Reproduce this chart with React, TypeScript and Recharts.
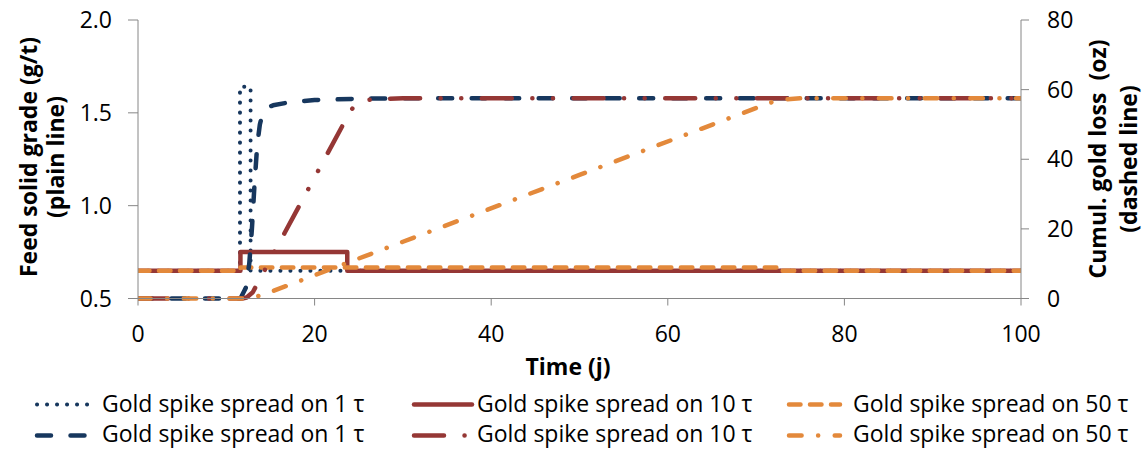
import { LineChart, Line, XAxis, YAxis, Legend } from "recharts"

const FONT = "'Open Sans', sans-serif"
const BLUE = "#17375E"
const RED = "#953735"
const ORANGE = "#E3893B"
const AXIS = "#868686"

// axis ticks
const timeTicks = [0, 20, 40, 60, 80, 100]
const gradeTicks = [0.5, 1.0, 1.5, 2.0]
const lossTicks = [0, 20, 40, 60, 80]

// feed solid grade (g/t), plain lines
const grade1Time = [0, 11.55, 11.55, 12.75, 12.75, 100]
const grade1 = [0.65, 0.65, 1.64, 1.64, 0.65, 0.65]
const grade10Time = [0, 11.6, 11.6, 23.7, 23.7, 100]
const grade10 = [0.65, 0.65, 0.75, 0.75, 0.65, 0.65]
const grade50Time = [0, 11.6, 11.6, 72.4, 72.4, 100]
const grade50 = [0.65, 0.65, 0.667, 0.667, 0.65, 0.65]

// cumulated gold loss (oz), dashed lines
const loss1Time = [0, 11.6, 12.2, 12.6, 12.9, 13.2, 13.5, 13.8, 14.1, 14.6, 15.3, 17, 20, 25, 30, 100]
const loss1 = [0, 0, 3, 10, 20, 33, 44, 50, 53, 54.8, 55.5, 56.3, 57, 57.4, 57.5, 57.5]
const loss10Time = [0, 11.8, 12.3, 13, 14, 16.6, 20.6, 24, 24.7, 25.5, 27, 30, 100]
const loss10 = [0, 0, 0.3, 1.8, 6.5, 18.8, 37.6, 53.6, 56, 56.9, 57.3, 57.5, 57.5]
const loss50Time = [0, 12, 12.8, 14, 30, 50, 70.4, 72, 73, 75, 100]
const loss50 = [0, 0, 0.3, 0.9, 16.3, 35.5, 55.1, 56.6, 57.1, 57.5, 57.5]

const seriesNames = [
  "Gold spike spread on 1 τ",
  "Gold spike spread on 10 τ",
  "Gold spike spread on 50 τ",
]

const toPoints = (t: number[], v: number[]) => t.map((x, i) => ({ t: x, v: v[i] }))

// line styles (Excel-like dash patterns)
const styles = {
  dot: { stroke: BLUE, dash: "0.1 9.9", width: 4 },
  solid: { stroke: RED, dash: undefined, width: 4.5 },
  dash: { stroke: ORANGE, dash: "11.5 9.5", width: 4.5 },
  longDash: { stroke: BLUE, dash: "14 19.5", width: 4.5 },
  longDashDotDot: { stroke: RED, dash: "30 20.5 0.1 20.5 0.1 20.5", width: 4.5 },
  dashDot: { stroke: ORANGE, dash: "12.6 16.5 0.1 16.5", width: 4.5 },
}

const series = [
  { key: "g1", axis: "grade", data: toPoints(grade1Time, grade1), name: seriesNames[0], style: styles.dot },
  { key: "g10", axis: "grade", data: toPoints(grade10Time, grade10), name: seriesNames[1], style: styles.solid },
  { key: "g50", axis: "grade", data: toPoints(grade50Time, grade50), name: seriesNames[2], style: styles.dash },
  { key: "l1", axis: "loss", data: toPoints(loss1Time, loss1), name: seriesNames[0], style: styles.longDash },
  { key: "l10", axis: "loss", data: toPoints(loss10Time, loss10), name: seriesNames[1], style: styles.longDashDotDot },
  { key: "l50", axis: "loss", data: toPoints(loss50Time, loss50), name: seriesNames[2], style: styles.dashDot },
]

// legend layout: 3 columns x 2 rows
const legendCols = [
  { x1: 37, x2: 88, tx: 102 },
  { x1: 414, x2: 472, tx: 477 },
  { x1: 789, x2: 840, tx: 853 },
]
const legendRows = [
  { ly: 19.5, ty: 27 },
  { ly: 50.5, ty: 57 },
]

const tickStyle = { fill: "#000", fontSize: 23, fontFamily: FONT }
const titleStyle = { fill: "#000", fontSize: 23, fontFamily: FONT, fontWeight: 700 }

function renderLegend() {
  return (
    <svg width={1146} height={67} style={{ display: "block" }}>
      {series.map((s, i) => {
        const col = legendCols[i % 3]
        const row = legendRows[Math.floor(i / 3)]
        return (
          <g key={s.key}>
            <line
              x1={col.x1}
              x2={col.x2}
              y1={row.ly}
              y2={row.ly}
              stroke={s.style.stroke}
              strokeWidth={s.style.width}
              strokeDasharray={s.style.dash}
              strokeLinecap="round"
            />
            <text x={col.tx} y={row.ty} {...tickStyle}>
              {s.name}
            </text>
          </g>
        )
      })}
    </svg>
  )
}

const leftTitle = () => (
  <g>
    <text transform="translate(37,157) rotate(-90)" textAnchor="middle" {...titleStyle}>
      Feed solid grade (g/t)
    </text>
    <text transform="translate(64,157) rotate(-90)" textAnchor="middle" {...titleStyle}>
      (plain line)
    </text>
  </g>
)

const rightTitle = () => (
  <g>
    <text transform="translate(1106,159) rotate(-90)" textAnchor="middle" {...titleStyle} style={{ whiteSpace: "pre" }}>
      {"Cumul. gold loss  (oz)"}
    </text>
    <text transform="translate(1137,159) rotate(-90)" textAnchor="middle" {...titleStyle}>
      (dashed line)
    </text>
  </g>
)

const bottomTitle = () => (
  <text x={568} y={375} textAnchor="middle" {...titleStyle}>
    Time (j)
  </text>
)

export default function App() {
  return (
    <div style={{ width: 1146, height: 452, background: "#fff" }}>
      <style>{"body{margin:0}"}</style>
      <LineChart
        width={1146}
        height={452}
        margin={{ top: 20, right: 0, bottom: 99.5, left: 0 }}
        style={{ fontFamily: FONT }}
      >
        <XAxis
          dataKey="t"
          type="number"
          domain={[0, 100]}
          ticks={timeTicks}
          allowDataOverflow
          height={54}
          stroke={AXIS}
          tickSize={7}
          tickMargin={20}
          tick={tickStyle}
          label={bottomTitle}
        />
        <YAxis
          yAxisId="grade"
          orientation="left"
          type="number"
          domain={[0.5, 2]}
          ticks={gradeTicks}
          tickFormatter={(v: number) => v.toFixed(1)}
          width={138}
          stroke={AXIS}
          tickSize={10}
          tickMargin={16}
          tick={tickStyle}
          label={leftTitle}
        />
        <YAxis
          yAxisId="loss"
          orientation="right"
          type="number"
          domain={[0, 80]}
          ticks={lossTicks}
          width={125}
          stroke={AXIS}
          tickSize={8}
          tickMargin={18}
          tick={tickStyle}
          label={rightTitle}
        />
        <Legend
          layout="vertical"
          align="center"
          verticalAlign="middle"
          content={renderLegend}
          wrapperStyle={{ position: "absolute", left: 0, top: 385, width: 1146, height: 67 }}
        />
        {series.map((s) => (
          <Line
            key={s.key}
            yAxisId={s.axis}
            data={s.data}
            dataKey="v"
            name={s.name}
            type="linear"
            stroke={s.style.stroke}
            strokeWidth={s.style.width}
            strokeDasharray={s.style.dash}
            strokeLinecap="round"
            strokeLinejoin="round"
            dot={false}
            activeDot={false}
            isAnimationActive={false}
          />
        ))}
      </LineChart>
    </div>
  )
}
